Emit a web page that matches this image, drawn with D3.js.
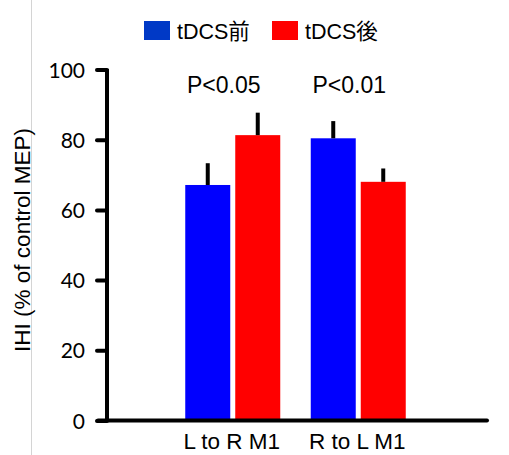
<!DOCTYPE html>
<html>
<head>
<meta charset="utf-8">
<script src="https://cdn.jsdelivr.net/npm/d3@7"></script>
<style>
  body { margin: 0; background: #fff; }
  svg { display: block; }
  .tick text { font-family: Lato, sans-serif; font-size: 21px; fill: #000; }
</style>
</head>
<body>
<div id="chart"></div>
<script>
// data
var categories = ["L to R M1", "R to L M1"],
  seriesNames = ["tDCS前", "tDCS後"],
  beforeValues = [67.1, 80.4],
  beforeErrors = [6.2, 4.9],
  afterValues = [81.3, 68.0],
  afterErrors = [6.4, 3.8],
  pLabels = ["P<0.05", "P<0.01"],
  yTicks = [0, 20, 40, 60, 80, 100];

var width = 509,
  height = 455,
  colors = { "tDCS前": "#0000ff", "tDCS後": "#ff0000" },
  legendColors = { "tDCS前": "#0039c6", "tDCS後": "#ff0000" };

// build rows for the bars
var rows = [];
categories.forEach(function(c, i) {
  rows.push({ cat: c, series: seriesNames[0], value: beforeValues[i], err: beforeErrors[i] });
  rows.push({ cat: c, series: seriesNames[1], value: afterValues[i], err: afterErrors[i] });
});

var svg = d3.select("#chart").append("svg")
  .attr("width", width)
  .attr("height", height);

// faint gray rule on the left side
svg.append("line")
  .attr("x1", 31.5).attr("x2", 31.5)
  .attr("y1", 0).attr("y2", height)
  .attr("stroke", "#d4d4d4")
  .attr("stroke-width", 1);

var y = d3.scaleLinear()
  .domain([0, 100])
  .range([420.5, 69.5]);

var x0 = d3.scaleBand()
  .domain(categories)
  .range([170, 421])
  .padding(0);

var x1 = d3.scaleBand()
  .domain(seriesNames)
  .range([15.25, x0.bandwidth() - 15.25])
  .paddingInner(0.1)
  .paddingOuter(0);

// bars
var groups = svg.selectAll(".group")
  .data(categories)
  .enter()
  .append("g")
  .attr("class", "group")
  .attr("transform", (d) => "translate(" + x0(d) + ",0)");

groups.selectAll("rect")
  .data((c) => rows.filter((r) => r.cat == c))
  .enter()
  .append("rect")
  .attr("x", (d) => x1(d.series))
  .attr("width", x1.bandwidth())
  .attr("y", (d) => y(d.value))
  .attr("height", (d) => y(0) - y(d.value))
  .attr("fill", (d) => colors[d.series]);

// error bars, only the upper half
groups.selectAll(".err")
  .data((c) => rows.filter((r) => r.cat == c))
  .enter()
  .append("line")
  .attr("class", "err")
  .attr("x1", (d) => x1(d.series) + x1.bandwidth() / 2)
  .attr("x2", (d) => x1(d.series) + x1.bandwidth() / 2)
  .attr("y1", (d) => y(d.value))
  .attr("y2", (d) => y(d.value + d.err))
  .attr("stroke", "#000")
  .attr("stroke-width", 4);

// y axis
var yAxis = d3.axisLeft(y)
  .tickValues(yTicks)
  .tickSize(10)
  .tickSizeOuter(0)
  .tickPadding(12)
  .tickFormat(d3.format("d"));

var gy = svg.append("g")
  .attr("transform", "translate(107,0)")
  .call(yAxis);
gy.select(".domain")
  .attr("stroke", "#000")
  .attr("stroke-width", 4)
  .attr("d", "M0," + (y(100) - 0.5) + "V" + (y(0) + 1));
gy.selectAll(".tick line")
  .attr("stroke", "#000")
  .attr("stroke-width", 4)
  .attr("stroke-linecap", "round");
gy.selectAll(".tick text").attr("dy", "0.36em");

// x axis line
svg.append("line")
  .attr("x1", 98).attr("x2", 487)
  .attr("y1", y(0)).attr("y2", y(0))
  .attr("stroke", "#000")
  .attr("stroke-width", 4)
  .attr("stroke-linecap", "round");

// category labels
svg.selectAll(".xlab")
  .data(categories)
  .enter()
  .append("text")
  .attr("class", "xlab")
  .attr("x", (d) => x0(d) + x0.bandwidth() / 2 - 1)
  .attr("y", 449)
  .attr("text-anchor", "middle")
  .style("font-family", "'Liberation Sans', Arial, sans-serif")
  .style("font-size", "22.5px")
  .text((d) => d);

// significance labels
svg.selectAll(".plab")
  .data(pLabels)
  .enter()
  .append("text")
  .attr("class", "plab")
  .attr("x", (d, i) => x0(categories[i]) + x0.bandwidth() / 2 - 9)
  .attr("y", 93)
  .attr("text-anchor", "middle")
  .style("font-family", "'Liberation Sans', Arial, sans-serif")
  .style("font-size", "23px")
  .text((d) => d);

// y axis title
svg.append("text")
  .attr("transform", "translate(30,240) rotate(-90)")
  .attr("text-anchor", "middle")
  .style("font-family", "'Liberation Sans', Arial, sans-serif")
  .style("font-size", "22.5px")
  .text("IHI (% of control MEP)");

// legend
var legendX = [144, 272];
var legend = svg.selectAll(".legend")
  .data(seriesNames)
  .enter()
  .append("g")
  .attr("class", "legend")
  .attr("transform", (d, i) => "translate(" + legendX[i] + ",21)");

legend.append("rect")
  .attr("width", 26)
  .attr("height", 19)
  .attr("fill", (d) => legendColors[d]);

legend.append("text")
  .attr("x", 33)
  .attr("y", 18)
  .style("font-family", "'Liberation Sans', Arial, 'Noto Sans CJK JP', sans-serif")
  .style("font-size", "21.5px")
  .text((d) => d);
</script>
</body>
</html>
